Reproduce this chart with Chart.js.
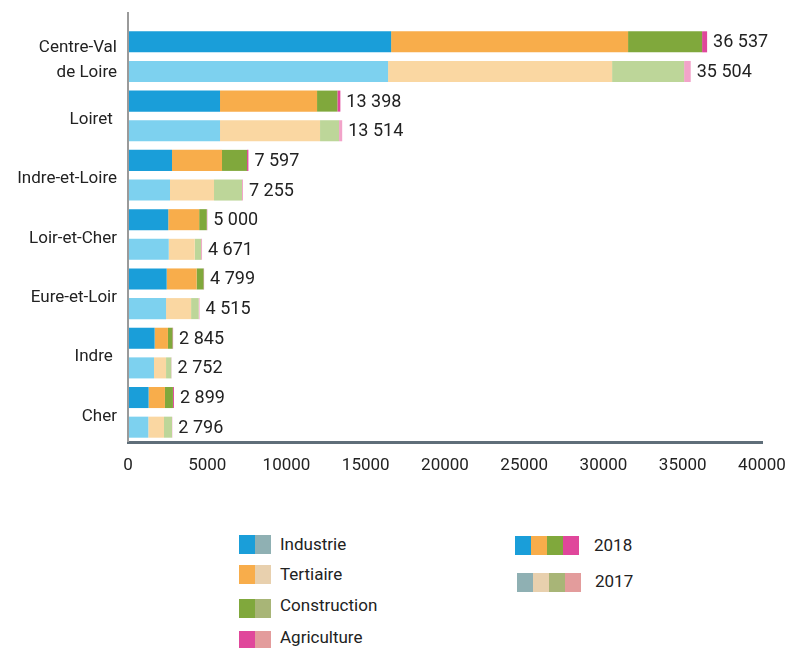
<!DOCTYPE html>
<html lang="fr">
<head>
<meta charset="utf-8">
<script src="https://cdn.jsdelivr.net/npm/chart.js@4/dist/chart.umd.min.js"></script>
<style>
    body { margin: 0; background: #fff; font-family: Roboto, sans-serif; color: #222; }
    #wrap { position: relative; width: 791px; height: 648px; overflow: hidden; }
    #chart { position: absolute; left: 0; top: 0; }
    .sq { position: absolute; width: 16px; height: 19px; }
    .lbl { position: absolute; font-size: 17px; line-height: 20px; height: 20px; white-space: nowrap; }
</style>
</head>
<body>
<div id="wrap">
    <canvas id="chart" width="791" height="490"></canvas>
    <div id="legend"></div>
</div>
<script>
// categories (y axis), top to bottom
const categories = [['Centre-Val', 'de Loire'], 'Loiret ', 'Indre-et-Loire', 'Loir-et-Cher', 'Eure-et-Loir', 'Indre ', 'Cher'];
const sectors = ['Industrie', 'Tertiaire', 'Construction', 'Agriculture'];
const years = ['2018', '2017'];

// 2018 values by sector
const industrie2018    = [16600, 5806, 2777, 2540, 2440, 1680, 1300];
const tertiaire2018    = [14950, 6121, 3155, 1950, 1890,  840, 1030];
const construction2018 = [ 4670, 1283, 1578,  480,  440,  290,  505];
const agriculture2018  = [  317,  188,   87,   30,   29,   35,   64];

// 2017 values by sector
const industrie2017    = [16407, 5806, 2650, 2570, 2400, 1640, 1280];
const tertiaire2017    = [14135, 6310, 2777, 1640, 1580,  760,  990];
const construction2017 = [ 4543, 1200, 1767,  400,  480,  330,  505];
const agriculture2017  = [  419,  198,   61,   61,   55,   22,   21];

const xTicks = [0, 5000, 10000, 15000, 20000, 25000, 30000, 35000, 40000];

// colours
const colors2018 = ['#1a9ed9', '#f8ad4b', '#80a83c', '#e0479b'];
const colors2017 = ['#7dd1ef', '#fad7a2', '#bdd699', '#f2a3c9'];
const legendColors2017 = ['#8fb0b3', '#e8d0ae', '#a8b577', '#e39c9c'];

const series2018 = [industrie2018, tertiaire2018, construction2018, agriculture2018];
const series2017 = [industrie2017, tertiaire2017, construction2017, agriculture2017];

function fmt(n) {
    return String(n).replace(/\B(?=(\d{3})+(?!\d))/g, ' ');
}

// totals written at the end of each bar
const totalLabels = {
    id: 'totalLabels',
    afterDatasetsDraw(chart) {
        const ctx = chart.ctx;
        ctx.save();
        ctx.font = '18px Roboto';
        ctx.fillStyle = '#222';
        ctx.textAlign = 'left';
        ctx.textBaseline = 'middle';
        years.forEach(year => {
            const idx = chart.data.datasets.map((d, i) => d.stack === year ? i : -1).filter(i => i >= 0);
            const last = chart.getDatasetMeta(idx[idx.length - 1]);
            categories.forEach((c, i) => {
                const total = idx.reduce((s, k) => s + chart.data.datasets[k].data[i], 0);
                const bar = last.data[i];
                ctx.fillText(fmt(total), bar.x + 6, bar.y + 1);
            });
        });
        ctx.restore();
    }
};

// left axis line, taller than the plot area
const leftAxis = {
    id: 'leftAxis',
    afterDraw(chart) {
        const ctx = chart.ctx;
        const x = chart.chartArea.left;
        ctx.save();
        ctx.strokeStyle = '#9a9a9a';
        ctx.lineWidth = 2;
        ctx.beginPath();
        ctx.moveTo(x, 12);
        ctx.lineTo(x, chart.chartArea.bottom);
        ctx.stroke();
        ctx.restore();
    }
};

const datasets = [];
sectors.forEach((s, k) => {
    datasets.push({ label: s + ' 2018', data: series2018[k], backgroundColor: colors2018[k], stack: '2018' });
});
sectors.forEach((s, k) => {
    datasets.push({ label: s + ' 2017', data: series2017[k], backgroundColor: colors2017[k], stack: '2017' });
});

new Chart(document.getElementById('chart'), {
    type: 'bar',
    data: { labels: categories, datasets },
    options: {
        indexAxis: 'y',
        responsive: false,
        animation: false,
        datasets: { bar: { barPercentage: 0.71, categoryPercentage: 1, borderWidth: 0 } },
        layout: { padding: { top: 27, right: 29, left: 0, bottom: 0 } },
        plugins: { legend: { display: false }, tooltip: { enabled: false } },
        scales: {
            x: {
                stacked: true,
                min: 0,
                max: 40000,
                afterBuildTicks: s => { s.ticks = xTicks.map(v => ({ value: v })); },
                afterFit: s => { s.height = 48; s.paddingLeft = 0; s.paddingRight = 0; },
                grid: { display: false, drawTicks: false },
                border: { display: true, color: '#5f6e79', width: 3 },
                ticks: { padding: 14, color: '#222', font: { family: 'Roboto', size: 17 }, callback: v => String(v), maxRotation: 0 }
            },
            y: {
                stacked: true,
                afterFit: s => { s.width = 128; },
                grid: { display: false, drawTicks: false },
                border: { display: false },
                ticks: { padding: 11, labelOffset: 4, color: '#222', font: { family: 'Roboto', size: 17, lineHeight: 1.47 } }
            }
        }
    },
    plugins: [totalLabels, leftAxis]
});

// -------- Legend --------
const legend = document.getElementById('legend');
function box(x, y, color) {
    const d = document.createElement('div');
    d.className = 'sq';
    d.style.left = x + 'px';
    d.style.top = y + 'px';
    d.style.background = color;
    legend.appendChild(d);
}
function text(x, cy, t) {
    const d = document.createElement('div');
    d.className = 'lbl';
    d.style.left = x + 'px';
    d.style.top = (cy - 10) + 'px';
    d.textContent = t;
    legend.appendChild(d);
}
const rowY = [535, 565, 599, 631];
const textY = [544, 574, 605, 637];
sectors.forEach((s, k) => {
    box(239, rowY[k], colors2018[k]);
    box(255, rowY[k], legendColors2017[k]);
    text(280, textY[k], s);
});
colors2018.forEach((c, k) => box(515 + k * 16, 536, c));
text(594, 545, years[0]);
legendColors2017.forEach((c, k) => box(517 + k * 16, 573, c));
text(595, 581, years[1]);
</script>
</body>
</html>
